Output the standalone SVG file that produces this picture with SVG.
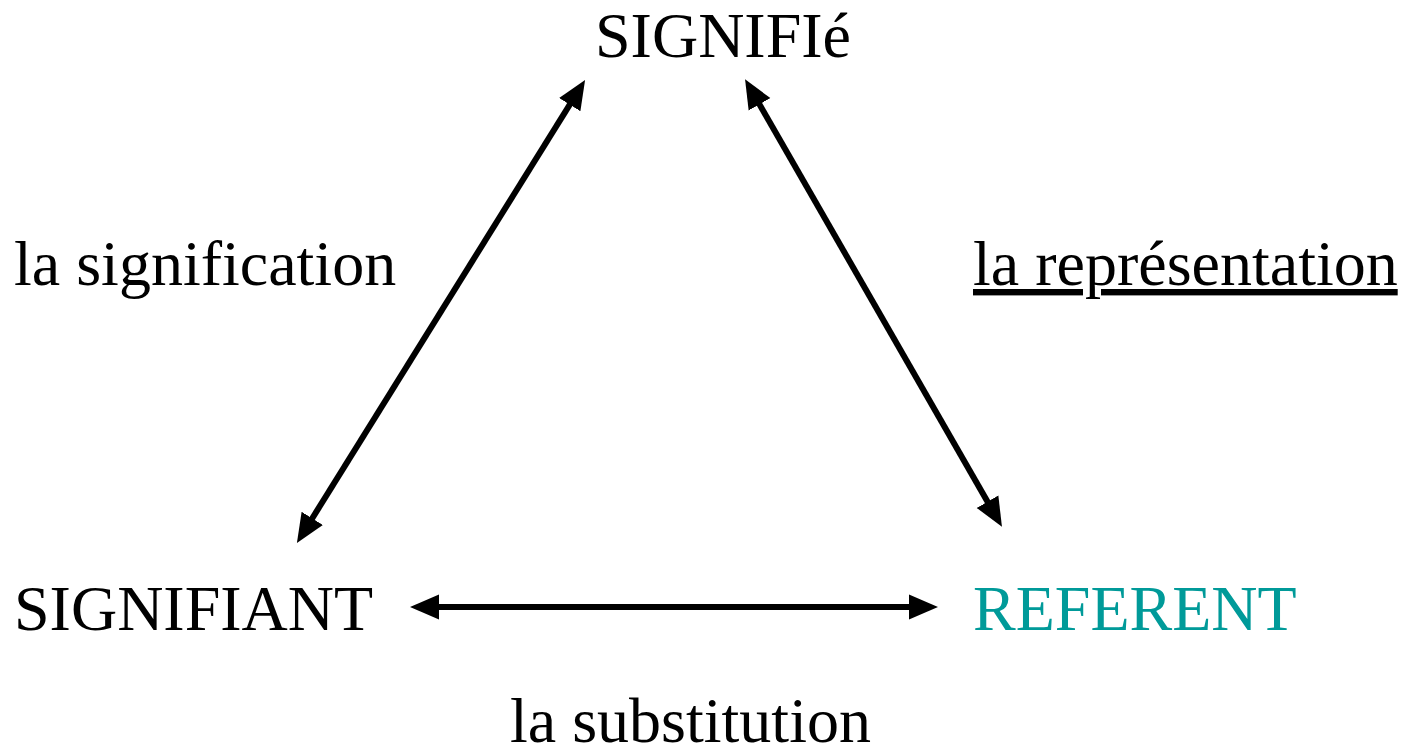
<svg xmlns="http://www.w3.org/2000/svg" width="1416" height="747" viewBox="0 0 1416 747">
  <style>
    .lbl { font-family: "Liberation Serif", "Times New Roman", serif; font-size: 64px; fill: #000; }
    .teal { fill: #009a99; }
    .link { stroke: #000; stroke-width: 6; fill: none; }
  </style>
  <defs>
    <marker id="head" viewBox="0 -14 30 28" refX="5" refY="0" markerWidth="30" markerHeight="28" markerUnits="userSpaceOnUse" orient="auto-start-reverse">
      <path d="M0,-12.5 L29,0 L0,12.5 z" fill="#000"/>
    </marker>
  </defs>
  <rect width="1416" height="747" fill="#fff"/>

  <g id="signifie">
    <text class="lbl" x="595" y="57">SIGNIFIé</text>
  </g>
  <g id="signifiant">
    <text class="lbl" x="14" y="630">SIGNIFIANT</text>
  </g>
  <g id="referent">
    <text class="lbl teal" x="973" y="630">REFERENT</text>
  </g>
  <g id="label-signification">
    <text class="lbl" x="14" y="285">la signification</text>
  </g>
  <g id="label-representation">
    <text class="lbl" x="973" y="285" text-decoration="underline">la représentation</text>
  </g>
  <g id="label-substitution">
    <text class="lbl" x="510" y="742">la substitution</text>
  </g>

  <g id="connectors">
    <line class="link" x1="309.6" y1="522.6" x2="572.4" y2="100.4" marker-start="url(#head)" marker-end="url(#head)"/>
    <line class="link" x1="757" y1="100" x2="990" y2="506" marker-start="url(#head)" marker-end="url(#head)"/>
    <line class="link" x1="434" y1="607" x2="914" y2="607" marker-start="url(#head)" marker-end="url(#head)"/>
  </g>
</svg>
